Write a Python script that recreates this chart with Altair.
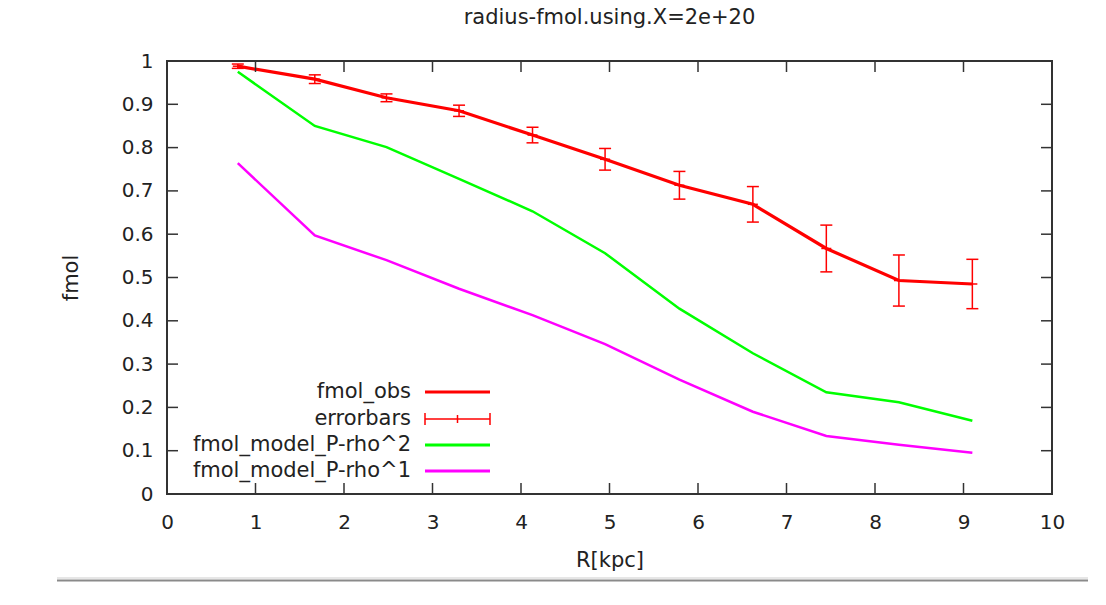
import altair as alt
import pandas as pd

# ---- data ----
r = [0.80, 1.67, 2.48, 3.30, 4.13, 4.95, 5.79, 6.62, 7.45, 8.27, 9.10]
fmol_obs = [0.988, 0.958, 0.915, 0.885, 0.829, 0.773, 0.713, 0.669, 0.567, 0.493, 0.485]
fmol_err = [0.005, 0.010, 0.009, 0.013, 0.018, 0.025, 0.032, 0.041, 0.054, 0.059, 0.057]
model_rho2 = [0.975, 0.850, 0.801, 0.728, 0.653, 0.556, 0.428, 0.325, 0.235, 0.212, 0.169]
model_rho1 = [0.764, 0.597, 0.540, 0.474, 0.413, 0.346, 0.264, 0.190, 0.134, 0.114, 0.095]
x_ticks = list(range(0, 11))
y_ticks = [round(i * 0.1, 1) for i in range(11)]
legend_labels = ["fmol_obs", "errorbars", "fmol_model_P-rho^2", "fmol_model_P-rho^1"]
legend_colors = ["#ff0000", "#ff0000", "#00ff00", "#ff00ff"]
title_text = "radius-fmol.using.X=2e+20"

W, H = 885, 433
FONT = "DejaVu Sans"
TXT = "#222222"
FRAME = "#333333"

df = pd.DataFrame({
    "r": r,
    "obs": fmol_obs,
    "lo": [o - e for o, e in zip(fmol_obs, fmol_err)],
    "hi": [o + e for o, e in zip(fmol_obs, fmol_err)],
    "m2": model_rho2,
    "m1": model_rho1,
})
xt = pd.DataFrame({"t": x_ticks})
yt = pd.DataFrame({"t": y_ticks})
one = pd.DataFrame({"a": [0]})

xs = alt.Scale(domain=[0, 10], nice=False, zero=False)
ys = alt.Scale(domain=[0, 1], nice=False)

x_axis = alt.Axis(values=x_ticks, ticks=False, domain=False, grid=False, format="d",
                  labelFont=FONT, labelFontSize=20, labelColor=TXT, labelPadding=18,
                  labelFlush=False, title="R[kpc]", titleFont=FONT, titleFontSize=21,
                  titleFontWeight="normal", titleColor=TXT, titlePadding=17)
y_axis = alt.Axis(values=y_ticks, ticks=False, domain=False, grid=False, format="~g",
                  labelFont=FONT, labelFontSize=20, labelColor=TXT, labelPadding=14,
                  labelFlush=False, title="fmol", titleFont=FONT, titleFontSize=21,
                  titleFontWeight="normal", titleColor=TXT, titlePadding=40)


def XQ(f):
    return alt.X(f, scale=xs, axis=x_axis)


def YQ(f):
    return alt.Y(f, scale=ys, axis=y_axis)


base = alt.Chart(df)

obs_line = base.mark_line(color="#ff0000", strokeWidth=3.2).encode(x=XQ("r:Q"), y=YQ("obs:Q"))
err_v = base.mark_rule(color="#ff0000", strokeWidth=1.5).encode(
    x=XQ("r:Q"), y=YQ("lo:Q"), y2="hi:Q")
cap_lo = base.mark_rule(color="#ff0000", strokeWidth=1.5, xOffset=-6, x2Offset=6).encode(
    x=XQ("r:Q"), x2="r:Q", y=YQ("lo:Q"))
cap_hi = base.mark_rule(color="#ff0000", strokeWidth=1.5, xOffset=-6, x2Offset=6).encode(
    x=XQ("r:Q"), x2="r:Q", y=YQ("hi:Q"))
mid = base.mark_rule(color="#ff0000", strokeWidth=1.5, xOffset=-5, x2Offset=5).encode(
    x=XQ("r:Q"), x2="r:Q", y=YQ("obs:Q"))
g_line = base.mark_line(color="#00ff00", strokeWidth=2.5).encode(x=XQ("r:Q"), y=YQ("m2:Q"))
m_line = base.mark_line(color="#ff00ff", strokeWidth=2.5).encode(x=XQ("r:Q"), y=YQ("m1:Q"))

TL = 11
tick_style = dict(color=FRAME, strokeWidth=1.5)
xb = alt.Chart(xt).mark_rule(**tick_style).encode(
    x=XQ("t:Q"), y=alt.value(H), y2=alt.value(H - TL))
xtp = alt.Chart(xt).mark_rule(**tick_style).encode(
    x=XQ("t:Q"), y=alt.value(0), y2=alt.value(TL))
yl = alt.Chart(yt).mark_rule(**tick_style).encode(
    y=YQ("t:Q"), x=alt.value(0), x2=alt.value(TL))
yr = alt.Chart(yt).mark_rule(**tick_style).encode(
    y=YQ("t:Q"), x=alt.value(W), x2=alt.value(W - TL))

# legend (gnuplot style: text right-aligned, sample to the right)
leg_layers = []
row_y = [331, 358, 384, 410]
tx, s0, s1 = 244, 258, 323
for lab, col, yy in zip(legend_labels, legend_colors, row_y):
    leg_layers.append(alt.Chart(one).mark_text(
        text=lab, align="right", baseline="middle", font=FONT, fontSize=21, color=TXT
    ).encode(x=alt.value(tx), y=alt.value(yy)))
    if lab == "errorbars":
        leg_layers.append(alt.Chart(one).mark_rule(color=col, strokeWidth=1.5).encode(
            x=alt.value(s0), x2=alt.value(s1), y=alt.value(yy)))
        for xx, hh in [(s0, 6), (s1, 6), ((s0 + s1) / 2, 4)]:
            leg_layers.append(alt.Chart(one).mark_rule(color=col, strokeWidth=1.5).encode(
                x=alt.value(xx), y=alt.value(yy - hh), y2=alt.value(yy + hh)))
    else:
        leg_layers.append(alt.Chart(one).mark_rule(color=col, strokeWidth=3).encode(
            x=alt.value(s0), x2=alt.value(s1), y=alt.value(yy)))

# page separator line below the chart
sep_shade = alt.Chart(one).mark_rule(color="#e6e6e6", strokeWidth=2).encode(
    x=alt.value(-110), x2=alt.value(921), y=alt.value(517))
sep = alt.Chart(one).mark_rule(color="#8a8a8a", strokeWidth=2).encode(
    x=alt.value(-110), x2=alt.value(921), y=alt.value(519.5))

chart = alt.layer(
    obs_line, err_v, cap_lo, cap_hi, mid, g_line, m_line,
    xb, xtp, yl, yr, *leg_layers, sep_shade, sep
).properties(
    width=W, height=H,
    title=alt.TitleParams(title_text, font=FONT, fontSize=21, fontWeight="normal",
                          color=TXT, anchor="middle", baseline="alphabetic", offset=6),
    autosize=alt.AutoSizeParams(type="none"),
    padding={"left": 167, "top": 61, "right": 54, "bottom": 111},
    background="white",
).configure_view(stroke=FRAME, strokeWidth=2)

chart.save("out.html", embed_options={"renderer": "svg", "actions": False})
